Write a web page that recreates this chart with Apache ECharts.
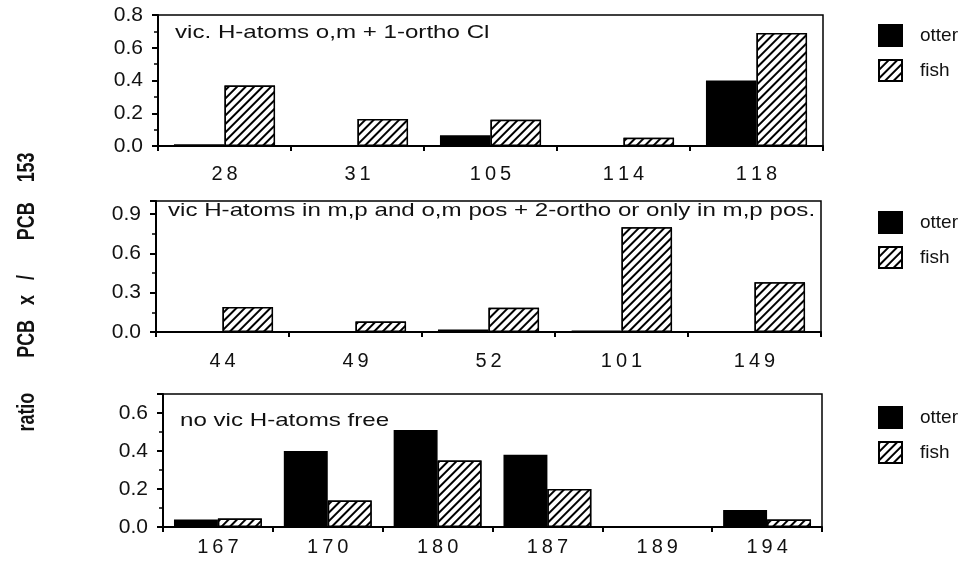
<!DOCTYPE html>
<html>
<head>
<meta charset="utf-8">
<script src="https://cdn.jsdelivr.net/npm/echarts@6/dist/echarts.min.js"></script>
<style>
html,body{margin:0;padding:0;background:#fff;}
#c{width:974px;height:563px;}
</style>
</head>
<body>
<div id="c"></div>
<script>
// ---- data ----
const cats1 = ['28', '31', '105', '114', '118'];
const otter1 = [0.01, 0, 0.065, 0, 0.40];
const fish1 = [0.37, 0.165, 0.16, 0.05, 0.69];

const cats2 = ['44', '49', '52', '101', '149'];
const otter2 = [0, 0, 0.02, 0.01, 0];
const fish2 = [0.19, 0.08, 0.185, 0.80, 0.38];

const cats3 = ['167', '170', '180', '187', '189', '194'];
const otter3 = [0.04, 0.40, 0.51, 0.38, 0, 0.09];
const fish3 = [0.045, 0.14, 0.35, 0.20, 0, 0.04];

const yMax = [0.8, 1.0, 0.7];
const yInterval = [0.2, 0.3, 0.2];
const panelTitles = [
  'vic. H-atoms o,m + 1-ortho Cl',
  'vic H-atoms in m,p and o,m pos + 2-ortho or only in m,p pos.',
  'no vic H-atoms free'
];
const seriesNames = ['otter', 'fish'];
const yTitle = 'ratio       PCB   x   /       PCB    153';

// ---- layout ----
const FONT = 'Liberation Sans, Arial, Helvetica, sans-serif';
const grids = [
  {left: 158, top: 15, right: 151, height: 131},
  {left: 156, top: 201, right: 153, height: 131},
  {left: 163, top: 394, right: 152, height: 133}
];
const labelMargins = [18, 19, 10];
const barWidths = ['38%', '38%', '40%'];
const allCats = [cats1, cats2, cats3];
const allOtter = [otter1, otter2, otter3];
const allFish = [fish1, fish2, fish3];

const hatch = {
  symbol: 'rect',
  symbolSize: 1,
  dashArrayX: [1, 0],
  dashArrayY: [2, 4],
  rotation: -Math.PI / 4,
  color: '#000',
  backgroundColor: '#fff'
};

const spaced = v => String(v).split('').join('\u2009');

const option = {
  backgroundColor: '#fff',
  animation: false,
  grid: grids.map(g => Object.assign({show: true, borderColor: '#000', borderWidth: 1.5, backgroundColor: 'transparent'}, g)),
  xAxis: allCats.map((c, i) => ({
    type: 'category',
    gridIndex: i,
    data: c,
    axisLine: {lineStyle: {color: '#000', width: 2}},
    axisTick: {show: true, length: 5, lineStyle: {color: '#000', width: 2}},
    axisLabel: {color: '#111', fontFamily: FONT, fontSize: 20, margin: labelMargins[i], formatter: spaced}
  })),
  yAxis: yMax.map((m, i) => ({
    type: 'value',
    gridIndex: i,
    min: 0,
    max: m,
    interval: yInterval[i],
    splitLine: {show: false},
    axisLine: {show: true, lineStyle: {color: '#000', width: 2}},
    axisTick: {show: true, length: 6, lineStyle: {color: '#000', width: 2}},
    minorTick: {show: true, splitNumber: 2, length: 4, lineStyle: {color: '#000', width: 1.5}},
    axisLabel: {
      color: '#111', fontFamily: FONT, fontSize: 21, margin: 15,
      showMaxLabel: (Math.abs(m / yInterval[i] - Math.round(m / yInterval[i])) < 1e-6),
      formatter: v => v.toFixed(1)
    }
  })),
  legend: grids.map((g, i) => ({
    orient: 'vertical',
    left: 873,
    top: [19, 206, 401][i],
    data: seriesNames,
    icon: 'rect',
    itemWidth: 23,
    itemHeight: 21,
    itemGap: 12,
    selectedMode: false,
    textStyle: {color: '#111', fontFamily: FONT, fontSize: 19, padding: [0, 0, 0, 13]}
  })),
  series: [],
  graphic: []
};

for (let i = 0; i < 3; i++) {
  option.series.push({
    name: seriesNames[0], type: 'bar', xAxisIndex: i, yAxisIndex: i,
    data: allOtter[i], barWidth: barWidths[i], barGap: '0%',
    itemStyle: {color: '#000', borderColor: '#000', borderWidth: 1.5}
  });
  option.series.push({
    name: seriesNames[1], type: 'bar', xAxisIndex: i, yAxisIndex: i,
    data: allFish[i], barWidth: barWidths[i], barGap: '0%',
    itemStyle: {color: '#fff', borderColor: '#000', borderWidth: 1.5, decal: hatch}
  });
}

const titlePos = [[175, 33], [168, 211], [180, 421]];
panelTitles.forEach((t, i) => {
  option.graphic.push({
    type: 'text', x: titlePos[i][0], y: titlePos[i][1], scaleX: 1.27,
    style: {text: t, fill: '#111', font: '19px ' + FONT, align: 'left', verticalAlign: 'middle'}
  });
});
option.graphic.push({
  type: 'text', x: 28, y: 292, rotation: Math.PI / 2, scaleX: 0.78,
  style: {text: yTitle, fill: '#111', font: 'bold 23px ' + FONT, align: 'center', verticalAlign: 'middle'}
});

const chart = echarts.init(document.getElementById('c'));
chart.setOption(option);
</script>
</body>
</html>
